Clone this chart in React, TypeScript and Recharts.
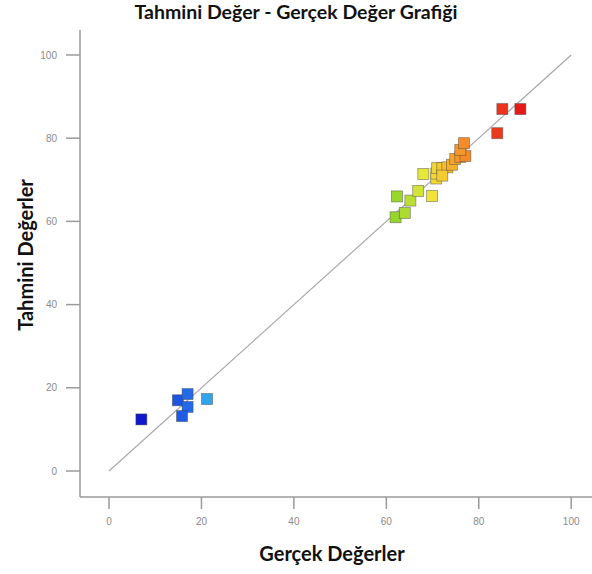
import { ScatterChart, Scatter, XAxis, YAxis, ReferenceLine, Cell } from "recharts"

// actual (x) vs predicted (y)
const actualValues = [7.0, 14.9, 17.0, 17.0, 15.8, 21.2, 62.0, 64.0, 65.2, 66.9, 62.3, 69.9, 68.0, 70.8, 70.8, 71.0, 72.1, 73.2, 72.1, 74.2, 74.9, 76.0, 77.1, 76.0, 76.8, 84.0, 85.1, 89.0]
const predictedValues = [12.4, 17.0, 18.5, 15.4, 13.2, 17.3, 61.0, 62.0, 65.0, 67.3, 66.0, 66.1, 71.4, 70.3, 71.5, 72.8, 72.8, 73.0, 71.0, 73.6, 75.0, 75.5, 75.7, 77.2, 78.8, 81.2, 87.0, 87.0]
const axisTicks = [0, 20, 40, 60, 80, 100]

const points = actualValues.map((a, i) => ({ actual: a, predicted: predictedValues[i] }))

// colour ramp by actual value, blue -> red
const colorStops: [number, number[]][] = [
  [7, [16, 24, 205]],
  [16, [30, 92, 230]],
  [21, [48, 164, 236]],
  [45, [70, 210, 150]],
  [62, [150, 214, 44]],
  [66, [196, 224, 54]],
  [69, [242, 236, 60]],
  [72, [246, 204, 48]],
  [76, [245, 150, 42]],
  [84, [236, 58, 30]],
  [89, [230, 24, 24]],
]

function colorFor(v: number) {
  for (let i = 0; i < colorStops.length - 1; i++) {
    const [a, ca] = colorStops[i]
    const [b, cb] = colorStops[i + 1]
    if (v <= b || i === colorStops.length - 2) {
      const t = Math.max(0, Math.min(1, (v - a) / (b - a)))
      const c = ca.map((x, k) => Math.round(x + (cb[k] - x) * t))
      return `rgb(${c[0]},${c[1]},${c[2]})`
    }
  }
  return "#888"
}

const Square = (props: any) => {
  const { cx, cy, fill } = props
  if (cx == null || cy == null) return null
  return (
    <rect
      x={cx - 5.5}
      y={cy - 5.5}
      width={11}
      height={11}
      fill={fill}
      stroke="rgba(70,70,70,0.55)"
      strokeWidth={0.8}
    />
  )
}

const tickStyle = { fill: "#8a8a8a", fontSize: 10, fontFamily: "Liberation Sans, Arial, sans-serif" }
const axisColor = "#9a9a9a"

export default function App() {
  return (
    <div style={{ position: "absolute", left: 0, top: 0, width: 592, height: 574, background: "#fff" }}>
      <div
        style={{
          position: "absolute",
          left: 0,
          width: 592,
          top: 0,
          textAlign: "center",
          fontFamily: "Lato, sans-serif",
          fontWeight: "bold",
          fontSize: 19.5,
          color: "#111",
        }}
      >
        Tahmini Değer - Gerçek Değer Grafiği
      </div>
      <ScatterChart width={592} height={574} margin={{ top: 30, right: 0, bottom: 47, left: 0 }}>
        <XAxis
          xAxisId="top"
          orientation="top"
          type="number"
          dataKey="actual"
          domain={[-6.28, 104.5]}
          allowDataOverflow
          tick={false}
          tickLine={false}
          height={0}
          axisLine={{ stroke: axisColor, strokeWidth: 1.5 }}
        />
        <XAxis
          type="number"
          dataKey="actual"
          domain={[-6.28, 104.5]}
          allowDataOverflow
          ticks={axisTicks}
          tickSize={12}
          tickMargin={9}
          height={30}
          tick={tickStyle}
          tickLine={{ stroke: axisColor, strokeWidth: 1.5 }}
          axisLine={{ stroke: axisColor, strokeWidth: 1.5 }}
        />
        <YAxis
          type="number"
          dataKey="predicted"
          domain={[-6.25, 106]}
          allowDataOverflow
          ticks={axisTicks}
          tickSize={14}
          tickMargin={9}
          width={80}
          tick={tickStyle}
          tickLine={{ stroke: axisColor, strokeWidth: 1.5 }}
          axisLine={{ stroke: axisColor, strokeWidth: 1.5 }}
        />
        <ReferenceLine
          segment={[{ x: 0, y: 0 }, { x: 100, y: 100 }]}
          stroke="#a8a8a8"
          strokeWidth={1.2}
        />
        <Scatter data={points} shape={Square} isAnimationActive={false}>
          {points.map((p, i) => (
            <Cell key={`pt-${i}`} fill={colorFor(p.actual)} />
          ))}
        </Scatter>
      </ScatterChart>
      <div
        style={{
          position: "absolute",
          left: 0,
          width: 592,
          top: 541,
          textAlign: "center",
          paddingLeft: 72,
          boxSizing: "border-box",
          fontFamily: "Lato, sans-serif",
          fontWeight: "bold",
          fontSize: 20,
          color: "#111",
        }}
      >
        Gerçek Değerler
      </div>
      <div
        style={{
          position: "absolute",
          left: 25,
          top: 255,
          transform: "translate(-50%, -50%) rotate(-90deg)",
          whiteSpace: "nowrap",
          fontFamily: "Lato, sans-serif",
          fontWeight: "bold",
          fontSize: 20,
          color: "#111",
        }}
      >
        Tahmini Değerler
      </div>
    </div>
  )
}
